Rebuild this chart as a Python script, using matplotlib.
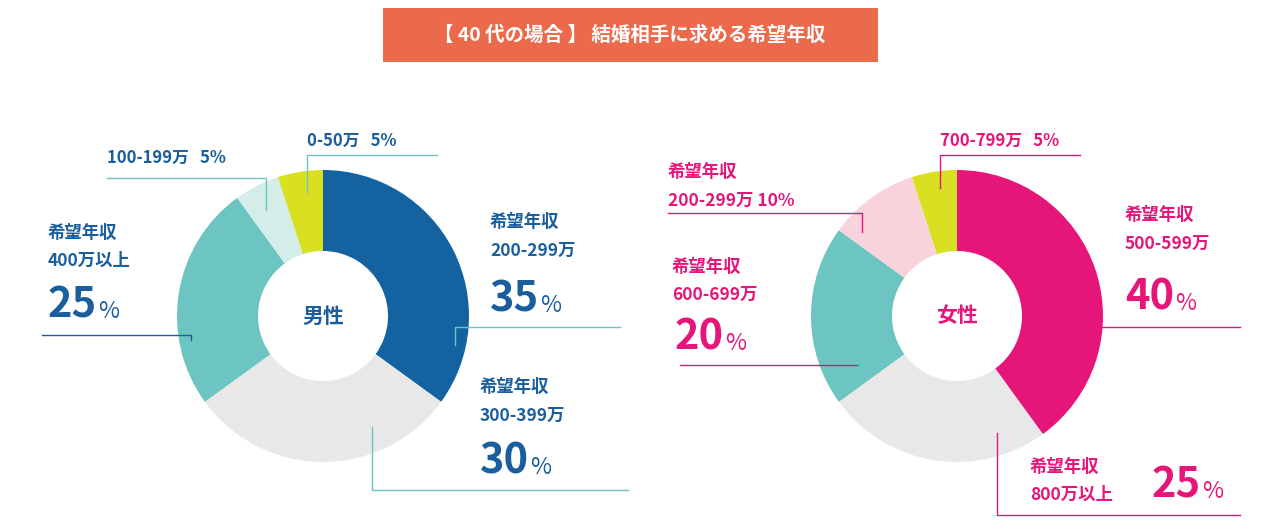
import matplotlib
matplotlib.use("Agg")
import matplotlib.pyplot as plt
from matplotlib.patches import Rectangle

plt.rcParams["font.family"] = "Noto Sans CJK JP"

# データ
male_labels = ["200-299万", "300-399万", "400万以上", "100-199万", "0-50万"]
male_values = [35, 30, 25, 5, 5]
male_colors = ["#1562a1", "#e8e8e8", "#6cc5c0", "#d5ede9", "#d9e021"]

female_labels = ["500-599万", "800万以上", "600-699万", "200-299万", "700-799万"]
female_values = [40, 25, 20, 10, 5]
female_colors = ["#e5157a", "#e8e8e8", "#6cc5c0", "#f9d3dc", "#d9e021"]

BLUE = "#1a5e9e"
PINK = "#e5157a"
H = 532

fig = plt.figure(figsize=(12.8, 5.32), dpi=100)
ax = fig.add_axes([0, 0, 1, 1])
ax.set_xlim(0, 1280)
ax.set_ylim(0, H)
ax.set_aspect("equal")
ax.axis("off")


def Y(y):
    return H - y


def donut(cx, cy, values, colors, center_text, tc):
    ax.pie(values, colors=colors, startangle=90, counterclock=False,
           center=(cx, Y(cy)), radius=146, frame=True,
           wedgeprops=dict(width=146 - 65, linewidth=0))
    ax.text(cx, Y(cy), center_text, color=tc, fontsize=15, fontweight="bold",
            ha="center", va="center")


def line(points, c):
    xs = [p[0] for p in points]
    ys = [Y(p[1]) for p in points]
    ax.plot(xs, ys, color=c, lw=1, zorder=10)


def pct(x, y, value, c, size=30):
    t = ax.text(x, Y(y), str(value), color=c, fontsize=size, fontweight="bold",
                ha="left", va="baseline")
    fig.canvas.draw()
    bb = t.get_window_extent()
    ax.text(bb.x1 + 1, Y(y), "%", color=c, fontsize=size * 0.55,
            ha="left", va="baseline")


def small(x, y, s, c, size=12.5):
    ax.text(x, Y(y), s, color=c, fontsize=size, fontweight="bold",
            ha="left", va="baseline")


# タイトル
ax.add_patch(Rectangle((383, Y(62)), 495, 54, color="#ec6a4c", lw=0))
ax.text(630, Y(35), "【 40 代の場合 】 結婚相手に求める希望年収", color="white",
        fontsize=14, fontweight="bold", ha="center", va="center")

donut(323, 316, male_values, male_colors, "男性", BLUE)
donut(957, 316, female_values, female_colors, "女性", PINK)
ax.set_xlim(0, 1280)
ax.set_ylim(0, H)

# 男性ラベル
small(307, 146, "0-50万   " + f"{male_values[4]}%", BLUE, 12)
line([(437, 155), (307, 155), (307, 192)], "#6cc5c0")
small(107, 163, "100-199万   " + f"{male_values[3]}%", BLUE, 12)
line([(107, 178), (266, 178), (266, 210)], "#6cc5c0")
small(48, 238, "希望年収", BLUE)
small(48, 266, male_labels[2], BLUE)
pct(48, 318, male_values[2], BLUE)
line([(42, 335), (191, 335), (191, 340)], BLUE)
small(490, 227, "希望年収", BLUE)
small(490, 256, male_labels[0], BLUE)
pct(490, 312, male_values[0], BLUE)
line([(620, 327), (455, 327), (455, 345)], "#6cc5c0")
small(480, 392, "希望年収", BLUE)
small(480, 421, male_labels[1], BLUE)
pct(480, 474, male_values[1], BLUE)
line([(372, 427), (372, 490), (628, 490)], "#6cc5c0")

# 女性ラベル
small(940, 146, "700-799万   " + f"{female_values[4]}%", PINK, 12)
line([(1080, 155), (940, 155), (940, 188)], PINK)
small(668, 177, "希望年収", PINK)
small(668, 206, female_labels[3] + " " + f"{female_values[3]}%", PINK)
line([(668, 213), (862, 213), (862, 232)], PINK)
small(672, 272, "希望年収", PINK)
small(672, 300, female_labels[2], PINK)
pct(675, 350, female_values[2], PINK)
line([(680, 365), (858, 365)], PINK)
small(1125, 220, "希望年収", PINK)
small(1125, 249, female_labels[0], PINK)
pct(1125, 310, female_values[0], PINK)
line([(1240, 327), (1058, 327), (1058, 357)], PINK)
small(1030, 472, "希望年収", PINK)
small(1030, 500, female_labels[1], PINK)
pct(1152, 498, female_values[1], PINK)
line([(997, 433), (997, 515), (1240, 515)], PINK)

fig.savefig("out.png", dpi=100, facecolor="white")
